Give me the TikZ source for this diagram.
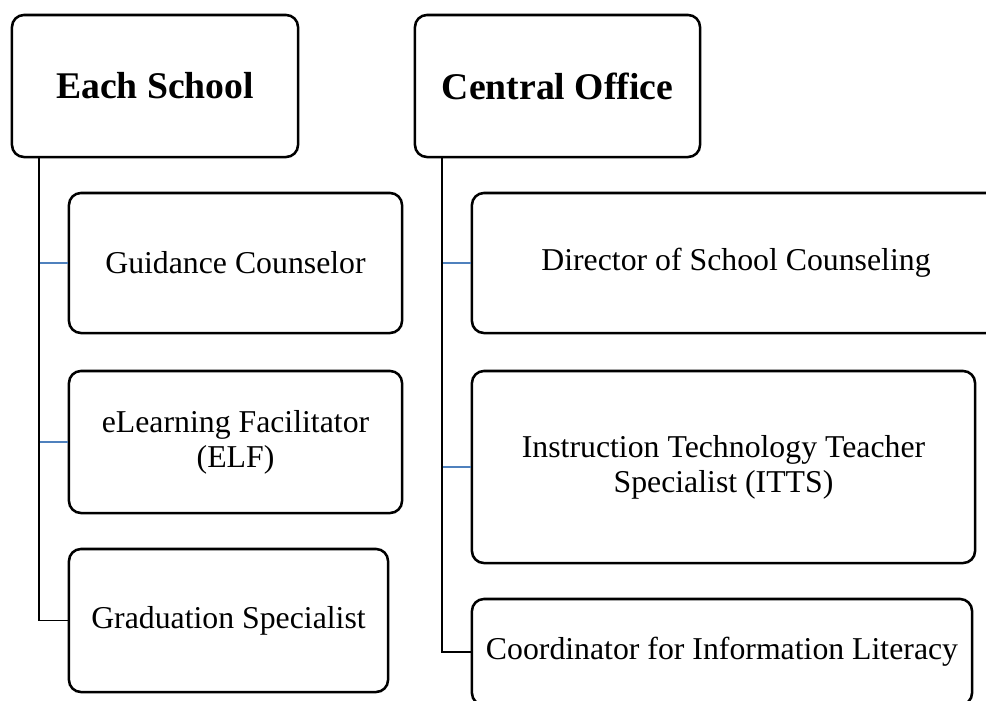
\documentclass[tikz,border=0pt]{standalone}
\usepackage{fontspec}
\setmainfont{Liberation Serif}
\usepackage{tikz}
\tikzset{
  headbox/.style={draw=black, line width=1.8pt, rounded corners=0.3cm, align=center,
    font=\fontsize{26.8}{31}\selectfont\bfseries, inner sep=0pt},
  rolebox/.style={draw=black, line width=1.8pt, rounded corners=0.3cm, align=center,
    font=\fontsize{22.6}{25}\selectfont, inner sep=0pt},
  trunk/.style={draw=black, line width=1.4pt},
  tick/.style={draw=RoyalBlue, line width=1.4pt}
}
\definecolor{RoyalBlue}{RGB}{79,129,189}

\begin{document}
\begin{tikzpicture}[x=0.025cm, y=-0.025cm]
\useasboundingbox (0,0) rectangle (986,700);
\clip (0,0) rectangle (986,700);

%Left column
\node [headbox, minimum width=7.15cm, minimum height=3.55cm] (school) at (155,86) {Each School};
\node [rolebox, minimum width=8.325cm, minimum height=3.5cm] (guide) at (235.5,263) {Guidance Counselor};
\node [rolebox, minimum width=8.325cm, minimum height=3.55cm] (elf) at (235.5,442) {eLearning Facilitator\\(ELF)};
\node [rolebox, minimum width=7.975cm, minimum height=3.575cm] (grad) at (228.5,620.5) {Graduation Specialist};

%Right column
\node [headbox, minimum width=7.125cm, minimum height=3.55cm] (office) at (557.5,86) {Central Office};
\node [rolebox, minimum width=13.2cm, minimum height=3.5cm] (director) at (736,263) {Director of School Counseling};
\node [rolebox, minimum width=12.575cm, minimum height=4.8cm] (itts) at (723.5,467) {Instruction Technology Teacher\\Specialist (ITTS)};
\node [rolebox, minimum width=12.5cm, minimum height=2.65cm] (coord) at (722,652) {Coordinator for Information Literacy};

%Connectors
\coordinate (trunkL) at ([xshift=0.7cm]school.south west);
\coordinate (trunkR) at ([xshift=0.7cm]office.south west);
\draw [tick] (guide.west) -- (guide.west -| trunkL);
\draw [tick] (elf.west) -- (elf.west -| trunkL);
\draw [trunk] (trunkL) |- (grad.west);
\draw [tick] (director.west) -- (director.west -| trunkR);
\draw [tick] (itts.west) -- (itts.west -| trunkR);
\draw [trunk] (trunkR) |- (coord.west);

\end{tikzpicture}
\end{document}
